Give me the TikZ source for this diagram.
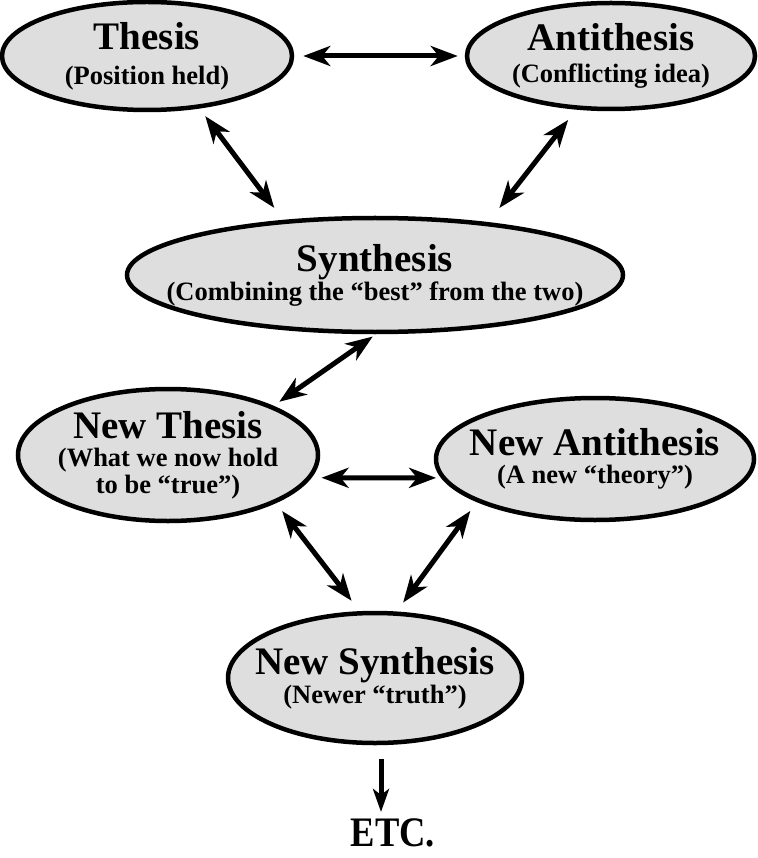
\documentclass[tikz,border=0pt]{standalone}
\usepackage{fontspec}
\setmainfont{Liberation Serif}
\usetikzlibrary{shapes.geometric,arrows.meta}
\tikzset{
  bub/.style={ellipse, draw=black, line width=4.5pt, fill=black!13, inner sep=0pt},
  txt/.style={inner sep=0pt, align=center, font=\bfseries\fontsize{26.5}{27}\selectfont},
  dbl/.style={line width=5pt,
    {Stealth[length=27pt,width=20pt,inset=8pt]}-{Stealth[length=27pt,width=20pt,inset=8pt]}},
  sgl/.style={line width=5pt, -{Stealth[length=23pt,width=16pt,inset=6pt]}},
  etcnode/.style={font=\bfseries\fontsize{42}{42}\selectfont, inner sep=0pt, anchor=base,
    xscale=0.87, transform shape}
}
\newcommand\ttlbig[1]{{\fontsize{39}{39}\selectfont #1}}
\begin{document}
\begin{tikzpicture}[x=1pt,y=-1pt]
\useasboundingbox (0,0) rectangle (757,858);
\node[bub, minimum width=290pt, minimum height=108pt] (T) at (147,56) {};
\node[txt] (Tt) at (T) {\ttlbig{Thesis}\\[8pt](Position held)};
\node[bub, minimum width=288pt, minimum height=106pt] (A) at (611,56) {};
\node[txt] (At) at (A) {\ttlbig{Antithesis}\\[5pt](Conflicting idea)};
\node[bub, minimum width=496pt, minimum height=114pt] (S) at (375,275) {};
\node[txt] (St) at (S) {\ttlbig{Synthesis}\\[1pt](Combining the “best” from the two)};
\node[bub, minimum width=300pt, minimum height=132pt] (NT) at (168,455) {};
\node[txt] (NTt) at (NT) {\ttlbig{New Thesis}\\[1pt](What we now hold\\[0pt]to be “true”)};
\node[bub, minimum width=318pt, minimum height=122pt] (NA) at (595,459) {};
\node[txt] (NAt) at (NA) {\ttlbig{New Antithesis}\\[1pt](A new “theory”)};
\node[bub, minimum width=294pt, minimum height=130pt] (NS) at (375,678) {};
\node[txt] (NSt) at (NS) {\ttlbig{New Synthesis}\\[2pt](Newer “truth”)};
\node[etcnode] (E) at (393,846) {ETC.};

\draw[dbl, shorten <=9pt, shorten >=7pt] (T.east) -- (A.west);
\draw[dbl, shorten <=9.5pt, shorten >=15pt] (T.-45) -- (S.149);
\draw[dbl, shorten <=13pt, shorten >=18pt] (A.-123) -- (S.25);
\draw[dbl, shorten <=4pt, shorten >=7pt] (S.-89) -- (NT.25);
\draw[dbl, shorten <=10pt, shorten >=5pt] (NT.-9) -- (NA.-173);
\draw[dbl, shorten <=10pt, shorten >=13pt] (NT.-24) -- (NS.103);
\draw[dbl, shorten <=11pt, shorten >=11pt] (NA.-160) -- (NS.72);
\draw[sgl, shorten <=14pt, shorten >=6pt] ([xshift=6pt]NS.south) -- ([xshift=-12pt]E.north);
\end{tikzpicture}
\end{document}
